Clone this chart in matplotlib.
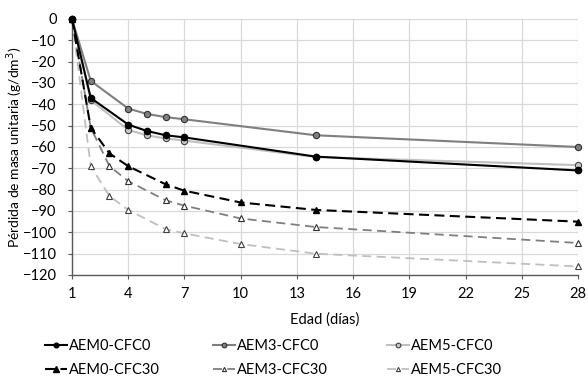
import matplotlib
matplotlib.use('Agg')
import matplotlib.pyplot as plt

plt.rcParams['font.family'] = ['Lato', 'DejaVu Sans']
plt.rcParams['font.size'] = 10

# ================ datos ================
dias_cfc0 = [1, 2, 4, 5, 6, 7, 14, 28]
aem0_cfc0 = [0, -37, -49.5, -52.5, -54.5, -55.5, -64.5, -71]
aem3_cfc0 = [0, -29, -42, -44.5, -46, -47, -54.5, -60]
aem5_cfc0 = [0, -38, -52, -54.5, -56, -57, -64.7, -68.5]

dias_cfc30 = [1, 2, 3, 4, 6, 7, 10, 14, 28]
aem0_cfc30 = [0, -51, -63, -69, -77.5, -80.5, -86, -89.5, -95]
aem3_cfc30 = [0, -51, -69, -76, -85, -87.5, -93.5, -97.5, -105]
aem5_cfc30 = [0, -69, -83, -89.5, -98.5, -100.5, -105.5, -110, -116]

x_ticks = [1, 4, 7, 10, 13, 16, 19, 22, 25, 28]
y_ticks = list(range(-120, 1, 10))

# ================ figura ================
W, H = 588, 381
fig = plt.figure(figsize=(W/100, H/100), dpi=100)
ax = fig.add_axes([72/W, 1-275/H, 506/W, 256/H])

negro, gris, gris_cl = '#000000', '#7f7f7f', '#bfbfbf'

l5b, = ax.plot(dias_cfc30, aem5_cfc30, '--', color=gris_cl, lw=1.3, dashes=(5, 3),
               marker='^', ms=4, mfc='white', mec='#404040', mew=0.8, zorder=3)
l3b, = ax.plot(dias_cfc30, aem3_cfc30, '--', color=gris, lw=1.3, dashes=(5, 3),
               marker='^', ms=4, mfc='white', mec='#303030', mew=0.8, zorder=4)
l0b, = ax.plot(dias_cfc30, aem0_cfc30, '--', color=negro, lw=1.5, dashes=(4.8, 2.6),
               marker='^', ms=5, mfc=negro, mec=negro, zorder=5)
l5a, = ax.plot(dias_cfc0, aem5_cfc0, '-', color=gris_cl, lw=1.5,
               marker='o', ms=4.5, mfc='#c8c8c8', mec='#404040', mew=0.8, zorder=3)
l3a, = ax.plot(dias_cfc0, aem3_cfc0, '-', color=gris, lw=1.5,
               marker='o', ms=4.5, mfc='#808080', mec='#303030', mew=0.8, zorder=4)
l0a, = ax.plot(dias_cfc0, aem0_cfc0, '-', color=negro, lw=1.5,
               marker='o', ms=4.5, mfc=negro, mec=negro, zorder=5)

ax.set_xlim(1, 28)
ax.set_ylim(-120, 0)
ax.set_xticks(x_ticks)
ax.set_yticks(y_ticks)
ax.grid(True, color='#d9d9d9', lw=0.9)
ax.set_axisbelow(True)
for s in ['top', 'right']:
    ax.spines[s].set_visible(False)
for s in ['left', 'bottom']:
    ax.spines[s].set_color('#595959')
    ax.spines[s].set_linewidth(1.0)
ax.tick_params(axis='x', direction='out', length=3, color='#595959', labelsize=10.5, pad=6)
ax.tick_params(axis='y', direction='out', length=3, color='#595959', labelsize=10.5, pad=8)
for ln in ax.lines:
    ln.set_clip_on(False)

ax.set_xlabel('Edad (días)', fontsize=10.5, labelpad=8)
ax.set_ylabel('Pérdida de masa unitaria (g/dm$^3$)', fontsize=10)
ax.yaxis.set_label_coords(-47/506, 0.5)

# ================ leyenda (3 columnas) ================
columnas = [((l0a, l0b), ('AEM0-CFC0', 'AEM0-CFC30'), 45),
            ((l3a, l3b), ('AEM3-CFC0', 'AEM3-CFC30'), 213),
            ((l5a, l5b), ('AEM5-CFC0', 'AEM5-CFC30'), 387)]
for hs, ls, x0 in columnas:
    leg = fig.legend(hs, ls, loc='upper left', bbox_to_anchor=(x0/W, 1-339/H),
                     frameon=False, fontsize=10.5, handlelength=1.5, handletextpad=0.15,
                     borderpad=0, borderaxespad=0, labelspacing=0.7, markerscale=0.75)

fig.savefig('out.png', dpi=100)
